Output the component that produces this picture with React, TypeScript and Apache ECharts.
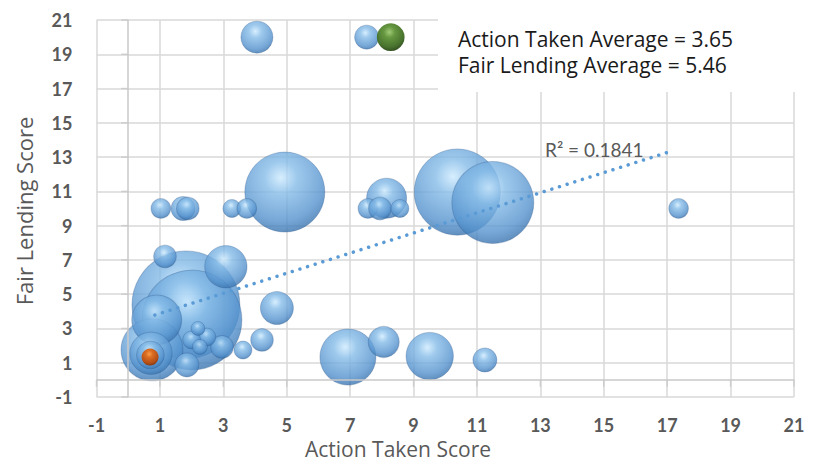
import React, { useEffect, useRef } from "react";
import * as echarts from "echarts";

// Blue bubbles: Action Taken score (x), Fair Lending score (y), bubble size
const actionTaken = [1.82, 2.01, 10.38, 11.5, 4.94, 0.75, 6.93, 0.9, 9.51, 3.08, 8.15, 0.72, 4.69, 4.06, 8.06, 0.7, 7.52, 1.73, 1.88, 11.25, 1.85, 2.96, 4.22, 1.16, 1.03, 3.27, 3.74, 7.56, 7.94, 8.57, 17.36, 3.62, 2.48, 2.0, 2.26, 2.2];
const fairLending = [4.37, 3.49, 10.96, 10.35, 10.96, 1.75, 1.33, 3.5, 1.39, 6.6, 10.6, 1.55, 4.19, 20.0, 2.21, 1.45, 20.0, 10.0, 10.0, 1.16, 0.87, 1.92, 2.33, 7.2, 10.0, 10.0, 10.0, 10.0, 10.0, 10.0, 10.0, 1.74, 2.5, 2.33, 1.92, 3.0];
const bubbleSize = [182, 156, 116, 105, 100, 60, 49, 39, 35, 28, 25, 28, 17, 16, 15, 12, 9, 9, 8, 9, 9, 8, 8, 8, 6, 5, 6, 6, 8, 5, 6, 5, 5, 5, 3.5, 3];

// Highlighted bubbles
const highlightX = [0.69, 8.28];
const highlightY = [1.33, 20.0];
const highlightSize = [4.5, 12];

// Linear trendline end points
const trendX = [0.84, 17.14];
const trendY = [3.78, 13.35];

const axisTicks = [-1, 1, 3, 5, 7, 9, 11, 13, 15, 17, 19, 21];
const statLines = ["Action Taken Average = 3.65", "Fair Lending Average = 5.46"];
const rSquaredLabel = "R² = 0.1841";
const xTitle = "Action Taken Score";
const yTitle = "Fair Lending Score";

const sizeToPx = (w: number) => Math.sqrt(w) * 8;

const sphere = (c0: string, c1: string, c2: string, c3: string) =>
  new echarts.graphic.RadialGradient(0.45, 0.32, 0.72, [
    { offset: 0, color: c0 },
    { offset: 0.28, color: c1 },
    { offset: 0.75, color: c2 },
    { offset: 1, color: c3 },
  ]);

export default function App() {
  const ref = useRef<HTMLDivElement>(null);
  useEffect(() => {
    document.body.style.margin = "0";
    if (!ref.current) return;
    const chart = echarts.init(ref.current, undefined, { renderer: "svg" });
    const blue = sphere("#cdeafe", "#86bce8", "#5592cd", "#336da8");
    const orange = sphere("#ff9a40", "#e06a18", "#b84a0c", "#7a2e06");
    const green = sphere("#9cc870", "#5e9236", "#3e6a22", "#243f14");
    const labelFont = { fontFamily: "Lato", fontWeight: "bold" as const, fontSize: 18, color: "#595959" };
    chart.setOption({
      animation: false,
      grid: { left: 96.5, right: 26, top: 20, bottom: 65, containLabel: false },
      xAxis: {
        type: "value", min: -1, max: 21, interval: 2,
        axisLine: { show: false, onZero: false }, axisTick: { show: false },
        splitLine: { show: true, lineStyle: { color: "#d9d9d9", width: 1.5 } },
        axisLabel: { ...labelFont, margin: 19 },
      },
      yAxis: {
        type: "value", min: -1, max: 21, interval: 2,
        axisLine: { show: false, onZero: false }, axisTick: { show: false },
        splitLine: { show: true, lineStyle: { color: "#d9d9d9", width: 1.5 } },
        axisLabel: { ...labelFont, margin: 24 },
      },
      series: [
        {
          type: "line", data: [], z: 1, silent: true,
          markLine: {
            silent: true, symbol: "none", label: { show: false },
            lineStyle: { color: "#c8c8c8", width: 1.5, type: "solid" },
            data: [{ xAxis: 0 }, { yAxis: 0 }],
          },
        },
        {
          type: "scatter", z: 1, silent: true, symbol: "rect",
          symbolSize: [7, 1.5], symbolOffset: [-3.5, 0],
          itemStyle: { color: "#c8c8c8" },
          data: axisTicks.map((v) => [0, v]),
        },
        {
          type: "scatter", z: 1, silent: true, symbol: "rect",
          symbolSize: [1.5, 7], symbolOffset: [0, 3.5],
          itemStyle: { color: "#c8c8c8" },
          data: axisTicks.map((v) => [v, 0]),
        },
        {
          type: "scatter", z: 2,
          symbolSize: (v: number[]) => sizeToPx(v[2]),
          itemStyle: { color: blue, opacity: 0.8, borderColor: "rgba(40,80,130,0.35)", borderWidth: 1 },
          data: actionTaken.map((x, i) => [x, fairLending[i], bubbleSize[i]]),
        },
        {
          type: "scatter", z: 3,
          symbolSize: (v: number[]) => sizeToPx(v[2]),
          data: highlightX.map((x, i) => ({
            value: [x, highlightY[i], highlightSize[i]],
            itemStyle: { color: i === 0 ? orange : green, opacity: 0.95 },
          })),
        },
        {
          type: "line", z: 4, silent: true, symbol: "none",
          lineStyle: { color: "#5b9bd5", width: 3.5, type: [0.01, 8], cap: "round" },
          data: trendX.map((x, i) => [x, trendY[i]]),
        },
      ],
      graphic: [
        { type: "rect", z: 100, shape: { x: 438, y: 0, width: 382, height: 92 }, style: { fill: "#ffffff" } },
        {
          type: "text", z: 101, x: 458, y: 39,
          style: { text: statLines[0], font: "21px 'Open Sans'", lineHeight: 24, fill: "#1a1a1a", textVerticalAlign: "middle" },
        },
        {
          type: "text", z: 101, x: 458, y: 65,
          style: { text: statLines[1], font: "21px 'Open Sans'", lineHeight: 24, fill: "#1a1a1a", textVerticalAlign: "middle" },
        },
        {
          type: "text", z: 101, x: 545, y: 149,
          style: { text: rSquaredLabel, font: "19px Lato", fill: "#595959", textVerticalAlign: "middle" },
        },
        {
          type: "text", z: 101, x: 398, y: 449,
          style: { text: xTitle, font: "21px 'Open Sans'", fill: "#595959", textAlign: "center", textVerticalAlign: "middle" },
        },
        {
          type: "text", z: 101, x: 24, y: 211, rotation: Math.PI / 2,
          style: { text: yTitle, font: "22px 'Open Sans'", fill: "#595959", textAlign: "center", textVerticalAlign: "middle" },
        },
      ],
    });
    return () => chart.dispose();
  }, []);
  return <div ref={ref} style={{ width: 820, height: 462 }} />;
}
